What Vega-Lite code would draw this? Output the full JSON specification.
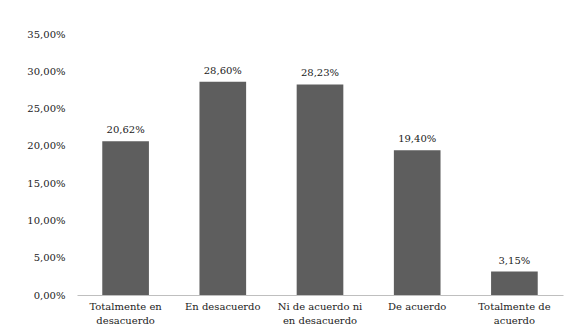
{
  "$schema": "https://vega.github.io/schema/vega-lite/v6.json",
  "width": 486,
  "height": 261,
  "autosize": {"type": "none"},
  "padding": {"left": 77, "top": 34, "right": 13, "bottom": 40},
  "background": "white",
  "config": {
    "locale": {"number": {"decimal": ",", "thousands": ".", "grouping": [3], "currency": ["", " €"]}},
    "view": {"stroke": null},
    "font": "DejaVu Serif"
  },
  "data": {
    "values": [
      {"categoria": "Totalmente en desacuerdo", "valor": 0.2062},
      {"categoria": "En desacuerdo", "valor": 0.2860},
      {"categoria": "Ni de acuerdo ni en desacuerdo", "valor": 0.2823},
      {"categoria": "De acuerdo", "valor": 0.1940},
      {"categoria": "Totalmente de acuerdo", "valor": 0.0315}
    ]
  },
  "encoding": {
    "x": {
      "field": "categoria",
      "type": "nominal",
      "sort": null,
      "scale": {"paddingInner": 0.52, "paddingOuter": 0.26},
      "axis": {
        "title": null,
        "labelAngle": 0,
        "labelFont": "DejaVu Serif",
        "labelFontSize": 10,
        "labelColor": "#222222",
        "labelPadding": 6,
        "ticks": false,
        "domainColor": "#bfbfbf",
        "labelExpr": "datum.label == 'Totalmente en desacuerdo' ? ['Totalmente en', 'desacuerdo'] : datum.label == 'Ni de acuerdo ni en desacuerdo' ? ['Ni de acuerdo ni', 'en desacuerdo'] : datum.label == 'Totalmente de acuerdo' ? ['Totalmente de', 'acuerdo'] : datum.label",
        "labelLineHeight": 14
      }
    },
    "y": {
      "field": "valor",
      "type": "quantitative",
      "scale": {"domain": [0, 0.35]},
      "axis": {
        "title": null,
        "values": [0, 0.05, 0.1, 0.15, 0.2, 0.25, 0.3, 0.35],
        "format": ".2%",
        "grid": false,
        "domain": false,
        "ticks": false,
        "labelPadding": 12,
        "labelFont": "DejaVu Serif",
        "labelFontSize": 10,
        "labelColor": "#222222"
      }
    }
  },
  "layer": [
    {"mark": {"type": "bar", "color": "#5e5e5e"}},
    {
      "mark": {"type": "text", "baseline": "bottom", "dy": -6, "font": "DejaVu Serif", "fontSize": 10, "color": "#222222"},
      "encoding": {"text": {"field": "valor", "type": "quantitative", "format": ".2%"}}
    }
  ]
}
